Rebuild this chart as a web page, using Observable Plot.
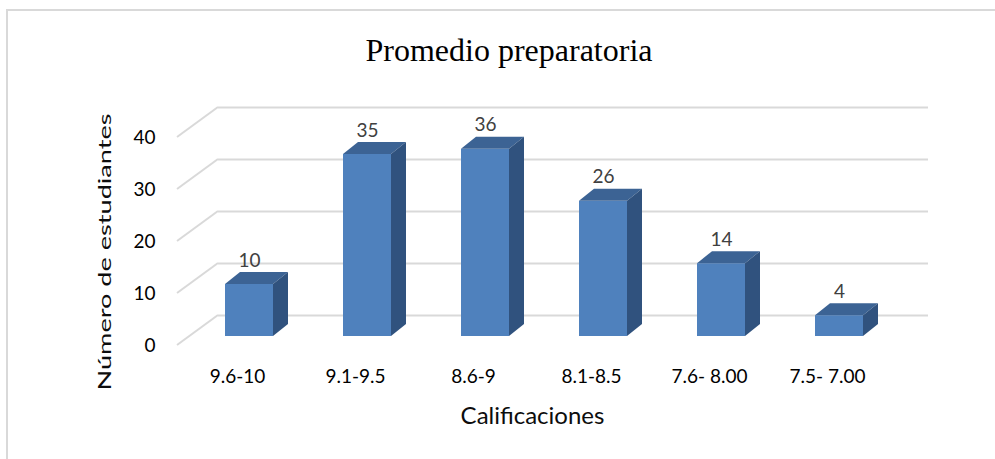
<!DOCTYPE html>
<html>
<head>
<meta charset="utf-8">
<script src="https://cdn.jsdelivr.net/npm/d3@7"></script>
<script src="https://cdn.jsdelivr.net/npm/@observablehq/plot@0.6"></script>
<style>
  html, body { margin: 0; padding: 0; background: #fff; overflow: hidden; }
  #wrap { position: relative; width: 995px; height: 459px; }
  #border { position: absolute; left: 6px; top: 9px; width: 1100px; height: 600px;
            border: 2px solid #d9d9d9; box-sizing: border-box; pointer-events: none; z-index: 2; }
</style>
</head>
<body>
<div id="wrap"><div id="border"></div></div>
<script>
const titleText = "Promedio preparatoria";
const xTitle = "Calificaciones";
const yTitle = "Número de estudiantes";
const categories = ["9.6-10", "9.1-9.5", "8.6-9", "8.1-8.5", "7.6- 8.00", "7.5- 7.00"];
const counts = [10, 35, 36, 26, 14, 4];
const yTicks = [0, 10, 20, 30, 40];

const data = categories.map((c, i) => ({cat: c, n: counts[i]}));

// 3D geometry (pixel offsets)
const BACK_DX = 41, BACK_DY = -30;   // back wall offset
const FRONT_DX = 12, FRONT_DY = -9;  // bar front face offset
const DEPTH_DX = 15, DEPTH_DY = -12; // bar depth
const INSET = 35;
const GRID = "#d9d9d9";
const FRONT = "#4f81bd", TOP = "#3c6394", SIDE = "#30527e";

function depthMark(index, scales, values, dimensions) {
  const x = scales.x, y = scales.y, bw = x.bandwidth();
  const g = d3.create("svg:g");
  g.selectAll("line").data(yTicks).join("line")
    .attr("x1", dimensions.marginLeft).attr("y1", d => y(d))
    .attr("x2", dimensions.marginLeft + BACK_DX).attr("y2", d => y(d) + BACK_DY)
    .attr("stroke", GRID).attr("stroke-width", 2);
  const y0 = y(0) + FRONT_DY;
  for (const d of data) {
    const xl = x(d.cat) + INSET + FRONT_DX;
    const xr = x(d.cat) + bw - INSET + FRONT_DX;
    const yt = y(d.n) + FRONT_DY;
    g.append("path")
      .attr("d", `M${xl},${yt}L${xr},${yt}L${xr + DEPTH_DX},${yt + DEPTH_DY}L${xl + DEPTH_DX},${yt + DEPTH_DY}Z`)
      .attr("fill", TOP);
    g.append("path")
      .attr("d", `M${xr},${yt}L${xr + DEPTH_DX},${yt + DEPTH_DY}L${xr + DEPTH_DX},${y0 + DEPTH_DY}L${xr},${y0}Z`)
      .attr("fill", SIDE);
  }
  return g.node();
}

const chart = Plot.plot({
  width: 995,
  height: 459,
  marginLeft: 177,
  marginRight: 108,
  marginTop: 137,
  marginBottom: 114,
  style: {fontFamily: "Lato", fontSize: "19px", color: "#000", background: "transparent"},
  x: {type: "band", domain: categories, padding: 0, tickSize: 0, tickPadding: 24, label: null},
  y: {domain: [0, 40], ticks: yTicks, tickSize: 0, tickPadding: 22, label: null},
  marks: [
    Plot.ruleY(yTicks, {dx: BACK_DX, dy: BACK_DY, stroke: GRID, strokeWidth: 2}),
    Plot.barY(data, {x: "cat", y: "n", fill: FRONT, insetLeft: INSET, insetRight: INSET, dx: FRONT_DX, dy: FRONT_DY}),
    depthMark,
    Plot.text(data, {x: "cat", y: "n", text: d => String(d.n), dx: FRONT_DX, dy: -27, lineAnchor: "bottom", fill: "#404040", fontSize: 19, fontFamily: "Lato"}),
    Plot.text([titleText], {frameAnchor: "top", dx: -23.5, dy: -77, lineAnchor: "bottom", fontFamily: "Liberation Serif", fontSize: 32, fill: "#000"}),
    Plot.text([xTitle], {frameAnchor: "bottom", dy: 78, lineAnchor: "bottom", fontFamily: "Lato", fontSize: 24, fill: "#0d0d0d"}),
    Plot.text([yTitle], {frameAnchor: "left", rotate: -90, dx: -67, dy: 149, textAnchor: "start", lineAnchor: "bottom", fontFamily: "Lato", fontSize: 18, fill: "#0d0d0d"})
  ]
});
document.getElementById("wrap").appendChild(chart);

// stretch the y-axis title to the length seen in the reference
for (const t of chart.querySelectorAll("text")) {
  if (t.textContent === yTitle) {
    t.setAttribute("textLength", 277);
    t.setAttribute("lengthAdjust", "spacingAndGlyphs");
  }
}
</script>
</body>
</html>
